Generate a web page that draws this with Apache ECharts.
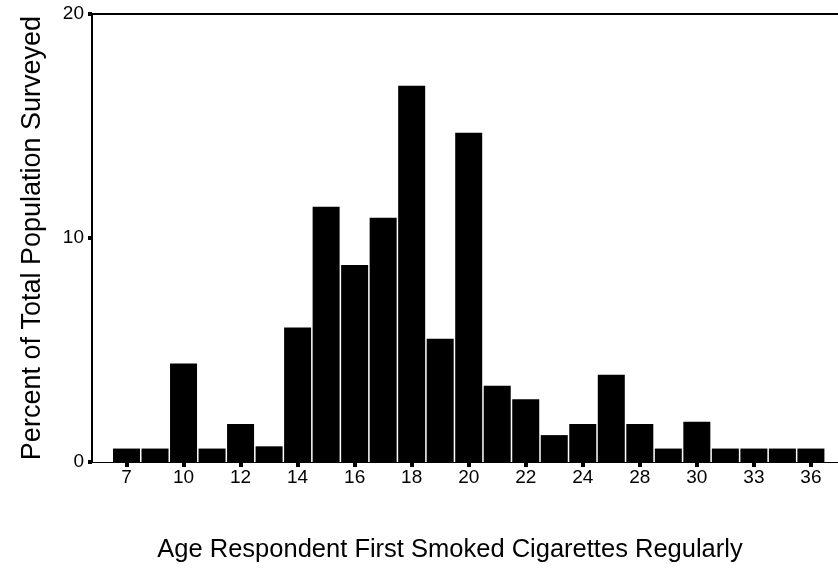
<!DOCTYPE html>
<html>
<head>
<meta charset="utf-8">
<script src="https://cdn.jsdelivr.net/npm/echarts@6/dist/echarts.min.js"></script>
<style>
  html, body { margin: 0; padding: 0; background: #fff; }
  #chart { width: 838px; height: 568px; }
</style>
</head>
<body>
<div id="chart"></div>
<script>
// age categories, one per bar (only every other one is labelled)
const ages = ["7", "8", "10", "11", "12", "13", "14", "15", "16", "17", "18", "19", "20",
  "21", "22", "23", "24", "26", "28", "29", "30", "32", "33", "35", "36"];
// percent of respondents per age
const percents = [0.6, 0.6, 4.4, 0.6, 1.7, 0.7, 6.0, 11.4, 8.8, 10.9, 16.8, 5.5, 14.7,
  3.4, 2.8, 1.2, 1.7, 3.9, 1.7, 0.6, 1.8, 0.6, 0.6, 0.6, 0.6];
const labelIdx = ages.map((a, i) => i).filter((i) => i % 2 === 0);

const font = '"Liberation Sans", Arial, sans-serif';
const chart = echarts.init(document.getElementById("chart"), null, { renderer: "canvas" });

chart.setOption({
  backgroundColor: "#fff",
  animation: false,
  textStyle: { fontFamily: font, color: "#000" },
  grid: { left: 92, right: 0, top: 14, bottom: 105 },
  xAxis: [
    {
      type: "value",
      min: -1.21,
      max: 24.95,
      name: "Age Respondent First Smoked Cigarettes Regularly",
      nameLocation: "middle",
      nameGap: 75,
      nameTextStyle: { fontSize: 25.5, color: "#000", padding: [0, 30, 0, 0] },
      axisLine: { show: true, onZero: false, lineStyle: { color: "#000", width: 1 } },
      axisTick: { show: true, customValues: labelIdx, length: 5, lineStyle: { color: "#000", width: 4 } },
      axisLabel: {
        customValues: labelIdx,
        formatter: (v) => ages[Math.round(v)],
        fontSize: 19,
        color: "#000",
        margin: 6,
      },
      splitLine: { show: false },
    },
    {
      type: "value",
      position: "top",
      min: -1.21,
      max: 24.95,
      axisLine: { show: true, onZero: false, lineStyle: { color: "#000", width: 2 } },
      axisTick: { show: false },
      axisLabel: { show: false },
      splitLine: { show: false },
    },
  ],
  yAxis: {
    type: "value",
    min: 0,
    max: 20,
    interval: 10,
    name: "Percent of Total Population Surveyed",
    nameLocation: "middle",
    nameGap: 46,
    nameTextStyle: { fontSize: 27, color: "#000" },
    axisLine: { show: true, onZero: false, lineStyle: { color: "#000", width: 2 } },
    axisTick: { show: true, length: 4, lineStyle: { color: "#000", width: 4 } },
    axisLabel: { fontSize: 19, color: "#000", margin: 8 },
    splitLine: { show: false },
  },
  series: [
    {
      type: "bar",
      xAxisIndex: 0,
      data: percents.map((v, i) => [i, v]),
      barWidth: 27,
      itemStyle: { color: "#000" },
    },
  ],
});
</script>
</body>
</html>
